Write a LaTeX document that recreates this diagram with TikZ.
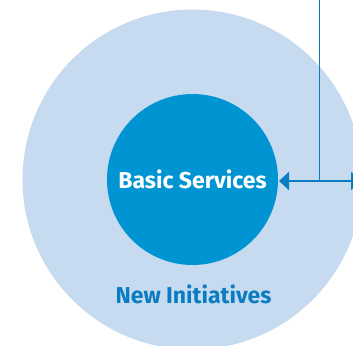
\documentclass[tikz,border=0pt]{standalone}
\usepackage{fontspec}
\setmainfont{Fira Sans}
\usetikzlibrary{arrows.meta}
\definecolor{outerblue}{HTML}{C6DBF0}
\definecolor{innerblue}{HTML}{0094D2}
\definecolor{lineblue}{HTML}{0A7DC2}
\tikzset{
  conn/.style={draw=lineblue, line width=1.6pt},
  tip/.style={-{Triangle[length=10pt,width=18pt]}},
}
\begin{document}
\begin{tikzpicture}[x=1pt,y=-1pt]
\useasboundingbox (0,0) rectangle (353,345);
\begin{scope}
\clip (0,0) rectangle (353,345);
\node[circle, fill=outerblue, minimum size=340pt, inner sep=0pt] (outer) at (192.5,179.5) {};
\node[circle, fill=innerblue, minimum size=171pt, inner sep=0pt, text=white, font=\bfseries\fontsize{23}{26}\selectfont] (inner) at (192.5,179.5) {Basic Services};
\node[text=lineblue, font=\bfseries\fontsize{23}{26}\selectfont] (newinit) at (193.5,294) {New Initiatives};
\coordinate (top) at (319.3,0);
\coordinate (junction) at (319.3,181);
\coordinate (rightend) at (361,181);
\coordinate (lefttip) at (279,181);
\draw[conn] (top) -- (junction);
\draw[conn, tip] (junction) -- (lefttip);
\draw[conn, tip] (junction) -- (rightend);
\end{scope}
\end{tikzpicture}
\end{document}
